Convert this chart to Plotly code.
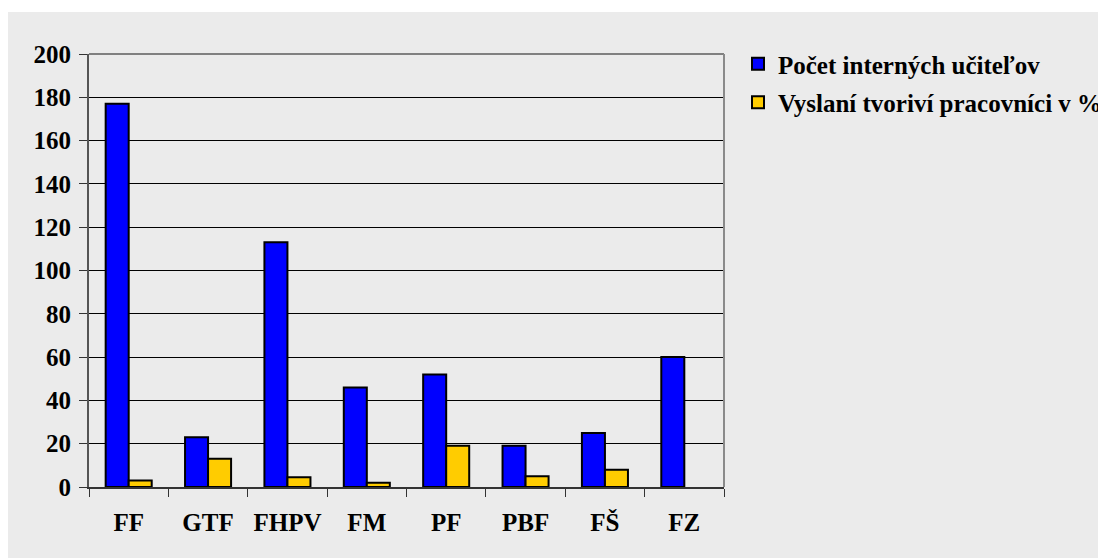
import plotly.graph_objects as go

categories = ["FF", "GTF", "FHPV", "FM", "PF", "PBF", "FŠ", "FZ"]
teachers = [177, 23, 113, 46, 52, 19, 25, 60]
sent_pct = [3, 13, 4.5, 2, 19, 5, 8, None]
y_ticks = [0, 20, 40, 60, 80, 100, 120, 140, 160, 180, 200]
series_names = ["Počet interných učiteľov", "Vyslaní tvoriví pracovníci v %"]
series_colors = ["#0000FF", "#FFCC00"]

OFF = 8  # page body margin
W, H = 1106, 558
L, R, T, B = 89 - OFF, 724 - OFF, 54 - OFF, 487 - OFF
pw, ph = R - L, B - T

def px(x):
    return (x - OFF - L) / pw

def py(y):
    return (B - (y - OFF)) / ph

FAM = "Liberation Serif, Times New Roman, serif"

fig = go.Figure()
for vals, name, col in zip([teachers, sent_pct], series_names, series_colors):
    fig.add_trace(go.Bar(
        x=categories, y=vals, name=name, showlegend=False,
        marker=dict(color=col, line=dict(color="black", width=2)),
    ))
for i, (name, col) in enumerate(zip(series_names, series_colors)):
    fig.add_trace(go.Scatter(
        x=[None], y=[None], mode="markers", name="<b>" + name + "</b>", legendgroup=f"g{i}",
        marker=dict(symbol="square", size=15, color=col, line=dict(color="black", width=2)),
    ))

shapes = [
    dict(type="rect", xref="paper", yref="paper", x0=px(7), x1=px(1130), y0=py(580), y1=py(12),
         fillcolor="#ebebeb", line=dict(width=0), layer="below"),
    dict(type="line", xref="paper", yref="paper", x0=0, x1=1, y0=1, y1=1,
         line=dict(color="#808080", width=2)),
    dict(type="line", xref="paper", yref="paper", x0=1, x1=1, y0=0, y1=1,
         line=dict(color="#8a8a8a", width=2)),
]

fig.update_layout(
    width=W, height=H,
    margin=dict(l=L, r=W - R, t=T, b=H - B, pad=0, autoexpand=False),
    paper_bgcolor="white", plot_bgcolor="rgba(0,0,0,0)",
    barmode="group", bargap=0.42, bargroupgap=0,
    shapes=shapes,
    showlegend=True,
    legend=dict(
        x=px(738), y=py(41), xanchor="left", yanchor="top",
        bgcolor="rgba(0,0,0,0)", borderwidth=0,
        font=dict(family=FAM, size=25, color="black"),
        traceorder="grouped", tracegroupgap=3, itemsizing="constant",
    ),
    xaxis=dict(
        showgrid=False, tickson="boundaries", ticks="outside", ticklen=8,
        tickcolor="#333", tickwidth=1, showline=True, linecolor="#333", linewidth=2,
        ticklabelstandoff=12,
        tickfont=dict(family=FAM, size=25, weight="bold", color="black"),
    ),
    yaxis=dict(
        range=[0, 200], tickvals=y_ticks, showgrid=True, gridcolor="black", gridwidth=1,
        ticks="outside", ticklen=8, tickcolor="#333", tickwidth=1,
        showline=True, linecolor="#555", linewidth=2, zeroline=False,
        ticklabelstandoff=3,
        tickfont=dict(family=FAM, size=25, weight="bold", color="black"),
    ),
)

fig.write_html("out.html")
